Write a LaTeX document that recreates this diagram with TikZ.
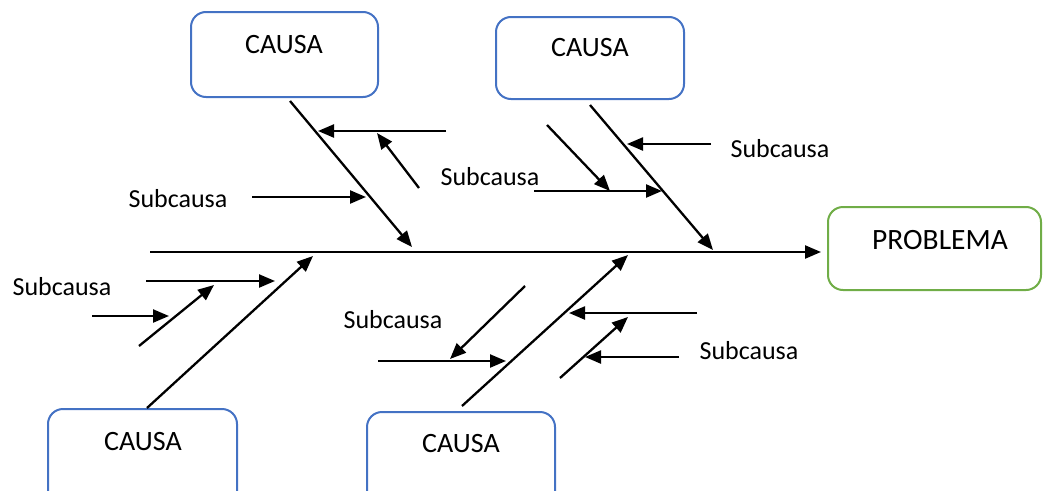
\documentclass[tikz,border=0pt]{standalone}
\usepackage{fontspec}
\setmainfont{Carlito}
\usetikzlibrary{arrows.meta}
\definecolor{causeblue}{HTML}{4472C4}
\definecolor{effectgreen}{HTML}{70AD47}
\begin{document}
\begin{tikzpicture}[x=1pt,y=-1pt,
  causebox/.style={draw=causeblue, line width=2pt, rounded corners=15pt, inner sep=0pt},
  effectbox/.style={draw=effectgreen, line width=2pt, rounded corners=15pt, inner sep=0pt},
  title/.style={font=\fontsize{28}{30}\selectfont, inner sep=0pt},
  sublabel/.style={font=\fontsize{26}{30}\selectfont, inner sep=0pt},
  bone/.style={line width=2.3pt, -{Triangle[length=16pt,width=13pt]}}]
\useasboundingbox (0,0) rectangle (1043,490);
\clip (0,0) rectangle (1043,490);

% effect box and cause boxes
\node[effectbox, minimum width=213pt, minimum height=83pt] (prob) at (934.5,248.5) {};
\node[title, font=\fontsize{29.5}{30}\selectfont] (probtext) at (940,240) {PROBLEMA};
\node[causebox, minimum width=187pt, minimum height=85pt] (c1) at (284.5,54.5) {};
\node[title] (c1text) at (284,45) {CAUSA};
\node[causebox, minimum width=188pt, minimum height=82pt] (c2) at (590,58) {};
\node[title] (c2text) at (590,48) {CAUSA};
\node[causebox, minimum width=189pt, minimum height=120pt] (c3) at (142.5,469) {};
\node[title] (c3text) at (143,442) {CAUSA};
\node[causebox, minimum width=188pt, minimum height=118pt] (c4) at (461,471) {};
\node[title] (c4text) at (461,444) {CAUSA};

% spine
\coordinate (spine0) at (150,252);
\draw[bone] (spine0) -- ([xshift=-6pt]spine0 -| prob.west);

% main bones
\coordinate (b1s) at (290,101);  \coordinate (b1e) at (412,247);
\coordinate (b2s) at (590,105);  \coordinate (b2e) at (713,250);
\coordinate (b3s) at (147,408);  \coordinate (b3e) at (313,256);
\coordinate (b4s) at (462,406);  \coordinate (b4e) at (628,255);
\draw[bone] (b1s) -- (b1e);
\draw[bone] (b2s) -- (b2e);
\draw[bone] (b3s) -- (b3e);
\draw[bone] (b4s) -- (b4e);

% sub-causes on the first upper bone
\coordinate (s1a) at (446,131); \coordinate (s1b) at (318,131);
\coordinate (s2a) at (419,188); \coordinate (s2b) at (377,133);
\coordinate (s3a) at (252,197); \coordinate (s3b) at (366,197);
\draw[bone] (s1a) -- (s1b);
\draw[bone] (s2a) -- (s2b);
\draw[bone] (s3a) -- (s3b);
\node[sublabel] (l1) at (178,199) {Subcausa};

% sub-causes on the second upper bone
\coordinate (s4a) at (711,144); \coordinate (s4b) at (627,144);
\coordinate (s5a) at (547,125); \coordinate (s5b) at (610,191);
\coordinate (s6a) at (534,191); \coordinate (s6b) at (662,191);
\draw[bone] (s4a) -- (s4b);
\draw[bone] (s5a) -- (s5b);
\draw[bone] (s6a) -- (s6b);
\node[sublabel] (l2) at (490,177) {Subcausa};
\node[sublabel] (l3) at (780,149) {Subcausa};

% sub-causes on the first lower bone
\coordinate (s7a) at (146,281); \coordinate (s7b) at (275,281);
\coordinate (s8a) at (139,346); \coordinate (s8b) at (214,285);
\coordinate (s9a) at (92,316);  \coordinate (s9b) at (169,316);
\draw[bone] (s7a) -- (s7b);
\draw[bone] (s8a) -- (s8b);
\draw[bone] (s9a) -- (s9b);
\node[sublabel] (l4) at (62,287) {Subcausa};

% sub-causes on the second lower bone
\coordinate (t1a) at (525,286); \coordinate (t1b) at (450,359);
\coordinate (t2a) at (378,361); \coordinate (t2b) at (506,361);
\coordinate (t3a) at (697,313); \coordinate (t3b) at (569,313);
\coordinate (t4a) at (560,378); \coordinate (t4b) at (628,317);
\coordinate (t5a) at (679,357); \coordinate (t5b) at (585,357);
\draw[bone] (t1a) -- (t1b);
\draw[bone] (t2a) -- (t2b);
\draw[bone] (t3a) -- (t3b);
\draw[bone] (t4a) -- (t4b);
\draw[bone] (t5a) -- (t5b);
\node[sublabel] (l5) at (393,320) {Subcausa};
\node[sublabel] (l6) at (749,351) {Subcausa};
\end{tikzpicture}
\end{document}
